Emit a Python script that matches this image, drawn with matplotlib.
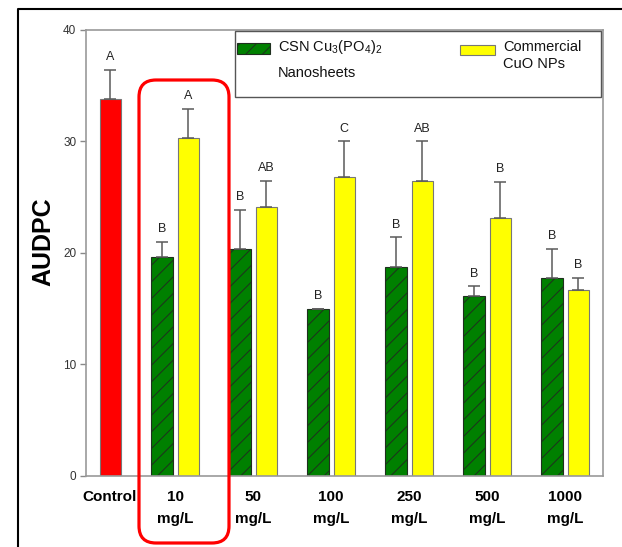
"""AUDPC bar chart: CSN Cu3(PO4)2 nanosheets vs commercial CuO NPs."""

import matplotlib.pyplot as plt
from matplotlib.lines import Line2D
from matplotlib.patches import FancyBboxPatch, Rectangle

plt.switch_backend("Agg")
plt.rcParams["font.family"] = ["Liberation Sans", "DejaVu Sans"]
plt.rcParams["mathtext.fontset"] = "custom"
plt.rcParams["mathtext.rm"] = "Liberation Sans"
plt.rcParams["hatch.linewidth"] = 0.7

# Data
doses = ["10\nmg/L", "50\nmg/L", "100\nmg/L", "250\nmg/L", "500\nmg/L", "1000\nmg/L"]
control_mean = 33.8
control_err = 2.6
control_letter = "A"
csn_mean = [19.6, 20.4, 15.0, 18.7, 16.1, 17.8]
csn_err = [1.4, 3.5, 0.0, 2.7, 0.9, 2.6]
csn_letters = ["B", "B", "B", "B", "B", "B"]
cuo_mean = [30.3, 24.1, 26.8, 26.5, 23.1, 16.7]
cuo_err = [2.6, 2.4, 3.2, 3.5, 3.3, 1.1]
cuo_letters = ["A", "AB", "C", "AB", "B", "B"]

COLORS = {"control": "#ff0000", "csn": "#008000", "cuo": "#ffff00"}
WIDTH = 0.27
OFFSET = 0.167
H = 5.47  # figure height, inches

fig = plt.figure(figsize=(6.22, H), dpi=100)
ax = fig.add_axes([0.1383, 0.1298, 0.8312, 0.8154])

err_kw = {"ecolor": "#5a5a5a", "elinewidth": 1.1, "capsize": 4, "capthick": 1.1}


def _letters(xs, tops, letters):
    for x, t, s in zip(xs, tops, letters):
        ax.text(x, t + 0.6, s, ha="center", va="bottom", fontsize=9, color="#222222")


def _px(x, y):
    # reference pixel position (from top-left) -> inches
    return x / 100.0, H - y / 100.0


# Control
x_ctrl = OFFSET
ax.bar(x_ctrl, control_mean, WIDTH, color=COLORS["control"], edgecolor="#777777",
       linewidth=0.8, zorder=2)
ax.errorbar(x_ctrl, control_mean, yerr=[[0], [control_err]], fmt="none", zorder=3, **err_kw)
_letters([x_ctrl], [control_mean + control_err], [control_letter])

# Dose groups
pos = list(range(1, len(doses) + 1))
x_csn = [p - OFFSET for p in pos]
x_cuo = [p + OFFSET for p in pos]

ax.bar(x_csn, csn_mean, WIDTH, color=COLORS["csn"], edgecolor="#1f2f1f",
       linewidth=0.8, hatch="//", zorder=2)
ax.bar(x_cuo, cuo_mean, WIDTH, color=COLORS["cuo"], edgecolor="#777777",
       linewidth=0.8, zorder=2)
ax.errorbar(x_csn, csn_mean, yerr=[[0] * len(csn_err), csn_err], fmt="none", zorder=3, **err_kw)
ax.errorbar(x_cuo, cuo_mean, yerr=[[0] * len(cuo_err), cuo_err], fmt="none", zorder=3, **err_kw)
_letters(x_csn, [m + e for m, e in zip(csn_mean, csn_err)], csn_letters)
_letters(x_cuo, [m + e for m, e in zip(cuo_mean, cuo_err)], cuo_letters)

# Axes formatting
ax.set_xlim(-0.141, 6.487)
ax.set_ylim(0, 40)
ax.set_yticks([0, 10, 20, 30, 40])
ax.set_xticks([x_ctrl] + pos)
ax.set_xticklabels(["Control"] + doses, fontsize=11, fontweight="bold",
                   linespacing=1.7, va="top")
ax.tick_params(axis="x", length=0, pad=10)
ax.tick_params(axis="y", length=4, width=1, color="#888888", labelsize=8.5,
               labelcolor="#333333", pad=3)
for side in ["left", "right", "top", "bottom"]:
    ax.spines[side].set_color("#999999")
    ax.spines[side].set_linewidth(1.2)
ax.set_ylabel("AUDPC", fontsize=18, fontweight="bold")
ax.yaxis.set_label_coords(-0.06, 0.525)

# Legend, laid out by hand
tr = fig.dpi_scale_trans
x0, y0 = _px(235, 97)
fig.patches.append(Rectangle((x0, y0), 3.66, 0.66, transform=tr, facecolor="white",
                             edgecolor="#555555", linewidth=1.0, zorder=5))
gx, gy = _px(237, 54)
fig.patches.append(Rectangle((gx, gy), 0.33, 0.11, transform=tr, facecolor=COLORS["csn"],
                             edgecolor="#1f2f1f", hatch="//", linewidth=0.8, zorder=6))
yx, yy = _px(460, 55)
fig.patches.append(Rectangle((yx, yy), 0.35, 0.10, transform=tr, facecolor=COLORS["cuo"],
                             edgecolor="#777777", linewidth=0.8, zorder=6))
leg_text = [
    (278, 47, r"CSN Cu$_{3}$(PO$_{4}$)$_{2}$"),
    (278, 73, "Nanosheets"),
    (503, 47, "Commercial"),
    (503, 64, "CuO NPs"),
]
for px, py, s in leg_text:
    tx, ty = _px(px, py)
    fig.text(tx, ty, s, transform=tr, fontsize=10.5, ha="left", va="center",
             color="#111111", zorder=7)

# Red highlight box around 10 mg/L
fig.patches.append(FancyBboxPatch((1.39, 0.04), 0.90, 4.63,
                                  boxstyle="round,pad=0,rounding_size=0.17",
                                  transform=tr, fill=False,
                                  edgecolor="#ff0000", linewidth=2.3, clip_on=False))

# Outer frame
fig.lines.append(Line2D([0.18, 0.18, 6.6], [-0.2, 5.38, 5.38], color="black",
                        linewidth=1.5, transform=tr))

fig.savefig("out.png", dpi=100)
